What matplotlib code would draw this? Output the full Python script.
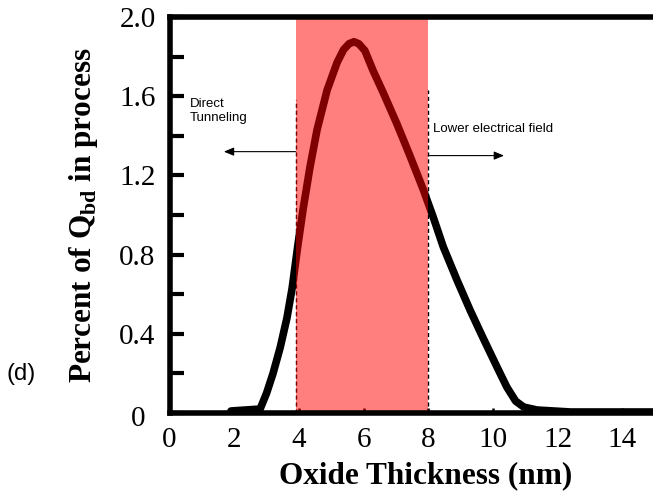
import matplotlib
matplotlib.use("Agg")
import matplotlib.pyplot as plt
import matplotlib.transforms as mtransforms

# curve (oxide thickness in nm, percent of Qbd)
thickness_nm = [1.9, 2.8, 3.0, 3.2, 3.42, 3.63, 3.79, 3.88, 3.97, 4.13, 4.34,
                4.56, 4.87, 5.18, 5.38, 5.55, 5.7, 5.85, 6.04, 6.29, 6.6,
                7.03, 7.43, 7.84, 8.15, 8.46, 8.89, 9.29, 9.69, 10.13, 10.43,
                10.7, 10.95, 11.36, 12.4, 15.0]
qbd_pct = [0.01, 0.02, 0.10, 0.20, 0.33, 0.48, 0.63, 0.74, 0.85, 1.03, 1.24,
           1.43, 1.63, 1.77, 1.835, 1.865, 1.875, 1.865, 1.83, 1.73, 1.62,
           1.46, 1.30, 1.13, 0.99, 0.84, 0.67, 0.52, 0.38, 0.23, 0.13,
           0.06, 0.03, 0.015, 0.005, 0.005]

shade_nm = [3.9, 8.0]          # highlighted process window
dash_top = [1.58, 1.63]        # height of the dashed boundary lines

xticks = [0, 2, 4, 6, 8, 10, 12, 14]
xtick_labels = ["0", "2", "4", "6", "8", "10", "12", "14"]
yticks = [0, 0.4, 0.8, 1.2, 1.6, 2.0]
ytick_labels = ["0", "0.4", "0.8", "1.2", "1.6", "2.0"]
yticks_minor = [0.2, 0.6, 1.0, 1.4, 1.8]

plt.rcParams["font.family"] = "Liberation Serif"
plt.rcParams["mathtext.fontset"] = "custom"
plt.rcParams["mathtext.rm"] = "Liberation Serif"
plt.rcParams["mathtext.bf"] = "Liberation Serif:bold"

fig = plt.figure(figsize=(6.53, 4.93), dpi=100)
ax = fig.add_axes([0.2596, 0.1623, 0.7431, 0.8032])

ax.plot(thickness_nm, qbd_pct, color="black", lw=5.5,
        solid_joinstyle="round", solid_capstyle="round", zorder=2)

# translucent red window sits over the curve but under the spines
ax.axvspan(shade_nm[0], shade_nm[1], color="red", alpha=0.5, lw=0, zorder=2.2)
for x, top in zip(shade_nm, dash_top):
    ax.plot([x, x], [0, top], color="black", lw=1, ls=(0, (3, 2)), zorder=2.1)

arrow = dict(arrowstyle="-|>,head_length=0.6,head_width=0.25", color="black",
             lw=0.8, shrinkA=0, shrinkB=0, mutation_scale=10)
ax.annotate("", xy=(1.68, 1.32), xytext=(shade_nm[0], 1.32), arrowprops=arrow, zorder=3)
ax.annotate("", xy=(10.34, 1.30), xytext=(shade_nm[1], 1.30), arrowprops=arrow, zorder=3)

ax.text(0.634, 1.592, "Direct\nTunneling", fontsize=9.5, family="Liberation Sans",
        ha="left", va="top", zorder=3)
ax.text(8.145, 1.463, "Lower electrical field", fontsize=9.5, family="Liberation Sans",
        ha="left", va="top", zorder=3)

ax.set_xlim(0, 15)
ax.set_ylim(0, 2.0)
ax.set_xticks(xticks)
ax.set_xticklabels(xtick_labels)
ax.set_yticks(yticks)
ax.set_yticklabels(ytick_labels)
ax.set_yticks(yticks_minor, minor=True)
ax.tick_params(axis="y", which="both", direction="in", length=10, width=3,
               pad=10, labelsize=21)
ax.tick_params(axis="x", direction="in", length=3.5, width=1.8, pad=10, labelsize=21)

for side in ["left", "bottom", "top"]:
    ax.spines[side].set_linewidth(4)
ax.spines["right"].set_visible(False)

ax.set_xlabel("Oxide Thickness (nm)", fontsize=22.5, fontweight="bold")
ax.xaxis.set_label_coords(0.5287, -0.1212)
ax.set_ylabel(r"Percent of Q$_{\mathbf{bd}}$ in process", fontsize=22.5, fontweight="bold")
ax.yaxis.set_label_coords(-0.143, 0.5)

# the "0" on the y axis sits a little left of the other labels in the scan
lab0 = ax.yaxis.get_major_ticks()[0].label1
lab0.set_transform(lab0.get_transform()
                   + mtransforms.ScaledTranslation(-0.1, -0.03, fig.dpi_scale_trans))

fig.text(0.0107, 0.2414, "(d)", fontsize=17, family="Liberation Sans",
         ha="left", va="center")

fig.savefig("out.png", dpi=100)
